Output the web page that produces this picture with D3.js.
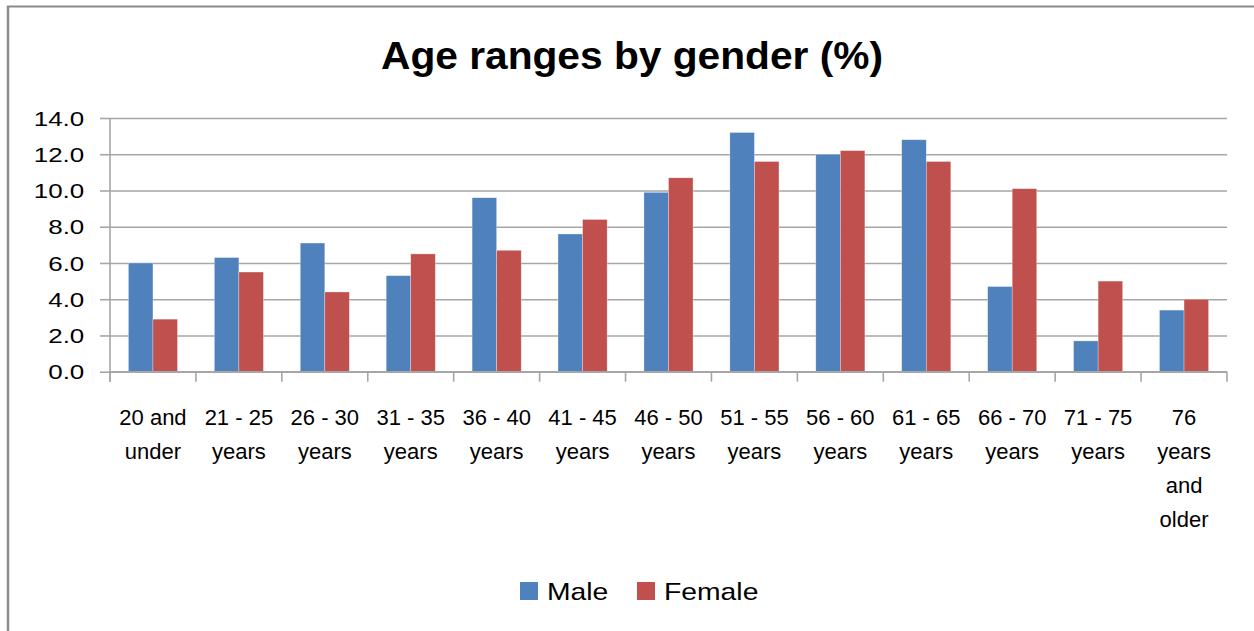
<!DOCTYPE html>
<html>
<head>
<meta charset="utf-8">
<script src="https://cdn.jsdelivr.net/npm/d3@7"></script>
<style>
  body { margin: 0; background: #fff; }
  text { font-family: "Liberation Sans", Arial, sans-serif; fill: #000; }
</style>
</head>
<body>
<script>
// data
var categories = ["20 and under", "21 - 25 years", "26 - 30 years", "31 - 35 years", "36 - 40 years",
                  "41 - 45 years", "46 - 50 years", "51 - 55 years", "56 - 60 years", "61 - 65 years",
                  "66 - 70 years", "71 - 75 years", "76 years and older"];
var tickLines = [["20 and", "under"], ["21 - 25", "years"], ["26 - 30", "years"], ["31 - 35", "years"],
                 ["36 - 40", "years"], ["41 - 45", "years"], ["46 - 50", "years"], ["51 - 55", "years"],
                 ["56 - 60", "years"], ["61 - 65", "years"], ["66 - 70", "years"], ["71 - 75", "years"],
                 ["76", "years", "and", "older"]];
var series = ["Male", "Female"];
var male   = [6.0, 6.3, 7.1, 5.3, 9.6, 7.6, 9.9, 13.2, 12.0, 12.8, 4.7, 1.7, 3.4];
var female = [2.9, 5.5, 4.4, 6.5, 6.7, 8.4, 10.7, 11.6, 12.2, 11.6, 10.1, 5.0, 4.0];
var yTicks = [0, 2, 4, 6, 8, 10, 12, 14];
var colors = {"Male": "#4F81BD", "Female": "#C0504D"};

function drawChart() {
    var width = 1254, height = 631;
    var plotLeft = 110, plotRight = 1227, plotTop = 118, plotBottom = 371.7;
    var gridColor = "#a6a6a6";

    var svg = d3.select("body").append("svg")
        .attr("width", width)
        .attr("height", height);

    // frame lines (top and left only)
    svg.append("line").attr("x1", 7).attr("x2", width).attr("y1", 6.5).attr("y2", 6.5)
        .attr("stroke", "#8a8a8a").attr("stroke-width", 2);
    svg.append("line").attr("x1", 8).attr("x2", 8).attr("y1", 6).attr("y2", height)
        .attr("stroke", "#8a8a8a").attr("stroke-width", 2.5);

    svg.append("text")
        .attr("x", 632).attr("y", 69)
        .attr("text-anchor", "middle")
        .attr("font-size", 38).attr("font-weight", "bold")
        .attr("textLength", 502).attr("lengthAdjust", "spacingAndGlyphs")
        .text("Age ranges by gender (%)");

    var x0 = d3.scaleBand().domain(categories).range([plotLeft, plotRight]).padding(0);
    var x1 = d3.scaleBand().domain(series).range([0, x0.bandwidth()]).paddingInner(0).paddingOuter(0.75);
    var y = d3.scaleLinear().domain([0, 14]).range([plotBottom, plotTop]);

    // gridlines
    var grid = svg.append("g").attr("transform", "translate(" + plotLeft + ",0)")
        .call(d3.axisLeft(y).tickValues(yTicks).tickSize(-(plotRight - plotLeft)).tickFormat(""));
    grid.select(".domain").remove();
    grid.selectAll("line").attr("stroke", gridColor).attr("stroke-width", 1.6);

    // y axis labels + outer ticks
    var yAxis = svg.append("g").attr("transform", "translate(" + plotLeft + ",0)")
        .call(d3.axisLeft(y).tickValues(yTicks).tickSize(10).tickFormat(d3.format(".1f")));
    yAxis.select(".domain").remove();
    yAxis.selectAll("line").attr("stroke", gridColor).attr("stroke-width", 1.6);
    yAxis.selectAll("text")
        .attr("font-size", 20)
        .attr("font-family", "Liberation Sans, Arial, sans-serif")
        .attr("x", -25.7 / 1.3)
        .attr("dy", "0.36em")
        .attr("transform", "scale(1.3,1)")
        .attr("fill", "#000");

    // bars
    var groups = svg.append("g").selectAll("g")
        .data(categories)
        .join("g")
        .attr("transform", function(d) { return "translate(" + x0(d) + ",0)"; });

    groups.selectAll("rect")
        .data(function(d, i) { return [{key: "Male", value: male[i]}, {key: "Female", value: female[i]}]; })
        .join("rect")
        .attr("x", function(d) { return x1(d.key); })
        .attr("y", function(d) { return y(d.value); })
        .attr("width", x1.bandwidth())
        .attr("height", function(d) { return y(0) - y(d.value); })
        .attr("fill", function(d) { return colors[d.key]; })
        .attr("stroke", "#ffffff").attr("stroke-opacity", 0.5).attr("stroke-width", 0.6);

    // value axis line + category axis
    svg.append("line").attr("x1", plotLeft).attr("x2", plotLeft).attr("y1", plotTop).attr("y2", plotBottom + 10)
        .attr("stroke", gridColor).attr("stroke-width", 1.6);
    svg.append("line").attr("x1", plotLeft).attr("x2", plotRight).attr("y1", plotBottom).attr("y2", plotBottom)
        .attr("stroke", gridColor).attr("stroke-width", 1.6);

    var boundaries = categories.map(function(d) { return x0(d); })
        .concat([x0(categories[categories.length - 1]) + x0.bandwidth()]);
    svg.append("g").selectAll("line")
        .data(boundaries)
        .join("line")
        .attr("x1", function(d) { return d; }).attr("x2", function(d) { return d; })
        .attr("y1", plotBottom).attr("y2", plotBottom + 10)
        .attr("stroke", gridColor).attr("stroke-width", 1.6);

    var labels = svg.append("g").selectAll("text")
        .data(categories)
        .join("text")
        .attr("y", 425)
        .attr("text-anchor", "middle")
        .attr("font-size", 22);

    labels.each(function(d, i) {
        var t = d3.select(this);
        var cx = x0(d) + x0.bandwidth() / 2;
        tickLines[i].forEach(function(line, j) {
            t.append("tspan")
                .attr("x", cx)
                .attr("dy", j == 0 ? 0 : 34)
                .text(line);
        });
    });

    // legend
    var legend = svg.append("g").selectAll("g")
        .data(series)
        .join("g")
        .attr("transform", function(d, i) { return "translate(" + (i == 0 ? 520 : 637) + ",582)"; });

    legend.append("rect")
        .attr("width", 18).attr("height", 18)
        .attr("fill", function(d) { return colors[d]; });

    legend.append("text")
        .attr("x", 27 / 1.18).attr("y", 18)
        .attr("font-size", 24)
        .attr("transform", "scale(1.18,1)")
        .text(function(d) { return d; });
}

drawChart();
</script>
</body>
</html>
